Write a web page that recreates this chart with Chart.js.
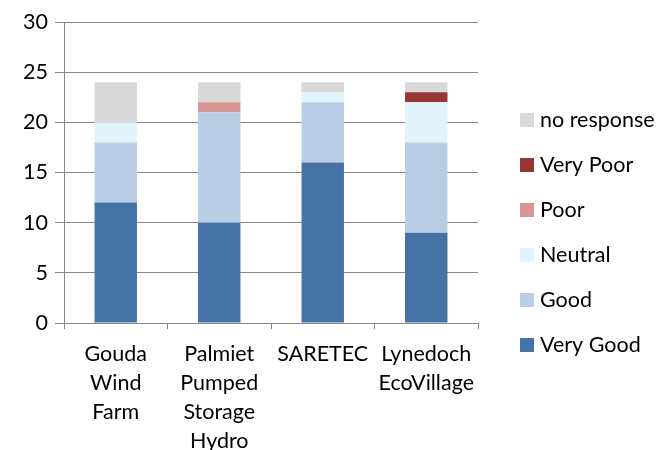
<!DOCTYPE html>
<html>
<head>
<meta charset="utf-8">
<script src="https://cdn.jsdelivr.net/npm/chart.js@4"></script>
<style>
  html, body { margin: 0; padding: 0; background: #fff; }
  #wrap { width: 660px; height: 450px; }
</style>
</head>
<body>
<div id="wrap"><canvas id="surveyChart" width="660" height="450"></canvas></div>
<script>
// categories (multi-line labels like the original)
const sites = [
    ["Gouda", "Wind", "Farm"],
    ["Palmiet", "Pumped", "Storage", "Hydro"],
    ["SARETEC"],
    ["Lynedoch", "EcoVillage"]
];

// answers per site
const veryGood   = [12, 10, 16, 9];
const good       = [6, 11, 6, 9];
const neutral    = [2, 0, 1, 4];
const poor       = [0, 1, 0, 0];
const veryPoor   = [0, 0, 0, 1];
const noResponse = [4, 2, 1, 1];

const yTicks = [0, 5, 10, 15, 20, 25, 30];

const FONT = "Lato, 'Open Sans', sans-serif";
const GRID = '#868686';

const datasets = [
    { label: 'Very Good',   data: veryGood,   backgroundColor: '#4573A7' },
    { label: 'Good',        data: good,       backgroundColor: '#B9CDE5' },
    { label: 'Neutral',     data: neutral,    backgroundColor: '#E2F4FB' },
    { label: 'Poor',        data: poor,       backgroundColor: '#D99694' },
    { label: 'Very Poor',   data: veryPoor,   backgroundColor: '#953735' },
    { label: 'no response', data: noResponse, backgroundColor: '#D9D9D9' }
];

// legend drawn on the right, top entry is the last series (like Excel)
const sideLegend = {
    id: 'sideLegend',
    afterDraw(chart) {
        const ctx = chart.ctx;
        const items = chart.data.datasets.slice().reverse();
        ctx.save();
        ctx.font = '21.5px ' + FONT;
        ctx.textBaseline = 'middle';
        ctx.textAlign = 'left';
        items.forEach((ds, i) => {
            const y = 120 + i * 45;
            ctx.fillStyle = ds.backgroundColor;
            ctx.fillRect(520, y - 7, 14, 14);
            ctx.fillStyle = '#000';
            ctx.fillText(ds.label, 540, y);
        });
        ctx.restore();
    }
};

new Chart(document.getElementById('surveyChart'), {
    type: 'bar',
    data: {
        labels: sites,
        datasets: datasets.map(d => Object.assign({
            barPercentage: 0.41,
            categoryPercentage: 1,
            borderWidth: 0
        }, d))
    },
    options: {
        responsive: false,
        animation: false,
        layout: { padding: { top: 22, right: 182, left: 0, bottom: 0 } },
        plugins: {
            legend: { display: false },
            tooltip: { enabled: false }
        },
        scales: {
            x: {
                stacked: true,
                grid: {
                    offset: true,
                    drawOnChartArea: false,
                    color: GRID,
                    tickLength: 6
                },
                border: { color: GRID },
                ticks: {
                    color: '#000',
                    font: { family: FONT, size: 21.5, lineHeight: 1.36 },
                    padding: 10,
                    maxRotation: 0,
                    autoSkip: false
                },
                afterFit(scale) { scale.height = 127; }
            },
            y: {
                stacked: true,
                min: 0,
                max: 30,
                afterBuildTicks(scale) {
                    scale.ticks = yTicks.map(v => ({ value: v }));
                },
                grid: { color: GRID, tickLength: 9 },
                border: { color: GRID },
                ticks: {
                    color: '#000',
                    font: { family: FONT, size: 21.5 },
                    padding: 7
                },
                afterFit(scale) { scale.width = 64; }
            }
        }
    },
    plugins: [sideLegend]
});
</script>
</body>
</html>
